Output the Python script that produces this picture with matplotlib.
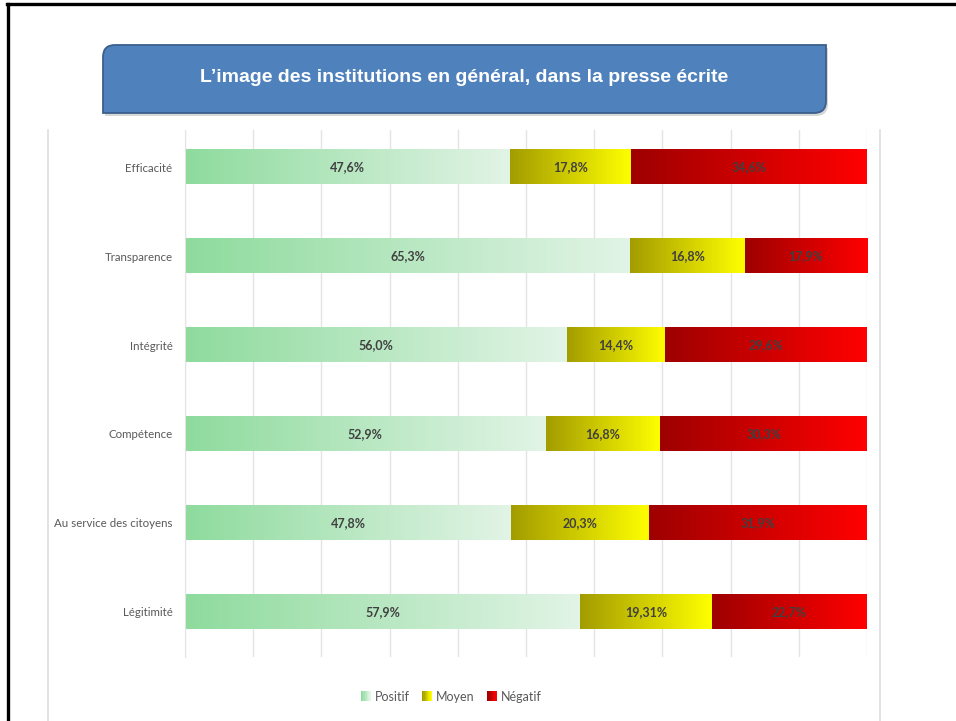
import numpy as np
import matplotlib
matplotlib.use("Agg")
import matplotlib.pyplot as plt
from matplotlib import font_manager
from matplotlib.colors import LinearSegmentedColormap
from matplotlib.patches import PathPatch, Rectangle
from matplotlib.path import Path
from matplotlib.legend_handler import HandlerBase
from matplotlib.lines import Line2D
from matplotlib.transforms import Affine2D

# données
categories = ["Efficacité", "Transparence", "Intégrité", "Compétence",
              "Au service des citoyens", "Légitimité"]
positif = [47.6, 65.3, 56.0, 52.9, 47.8, 57.9]
moyen = [17.8, 16.8, 14.4, 16.8, 20.3, 19.31]
negatif = [34.6, 17.9, 29.6, 30.3, 31.9, 22.7]
labels_positif = ["47,6%", "65,3%", "56,0%", "52,9%", "47,8%", "57,9%"]
labels_moyen = ["17,8%", "16,8%", "14,4%", "16,8%", "20,3%", "19,31%"]
labels_negatif = ["34,6%", "17,9%", "29,6%", "30,3%", "31,9%", "22,7%"]
series_names = ["Positif", "Moyen", "Négatif"]

title = "L\u2019image des institutions en général, dans la presse écrite"

# dégradés (gauche -> droite) de chaque série
gradients = [("#8edb9d", "#e2f4e6"), ("#a39c00", "#ffff00"), ("#9e0000", "#ff0000")]
cmaps = [LinearSegmentedColormap.from_list(n, g) for n, g in zip(series_names, gradients)]

# police étroite pour le titre si dispo
installed = {f.name for f in font_manager.fontManager.ttflist}
if "Liberation Sans Narrow" in installed:
    title_font, title_size = ["Liberation Sans Narrow", "DejaVu Sans"], 16
else:
    title_font, title_size = ["Liberation Sans", "DejaVu Sans"], 14

W, H = 956, 721
fig = plt.figure(figsize=(W / 100, H / 100), dpi=100)
fig.patch.set_facecolor("white")


def px(x, y):
    # pixels (haut-gauche) -> coordonnées figure
    return x / W, 1 - y / H


# cadre noir de la diapo
fig.add_artist(Line2D([7 / W, 1], [1 - 4 / H] * 2, color="black", lw=2.4, transform=fig.transFigure))
fig.add_artist(Line2D([8 / W] * 2, [0, 1 - 4 / H], color="black", lw=2.4, transform=fig.transFigure))

# bordures gauche/droite de la zone graphique
_, y0 = px(0, 130)
for xb in (48, 880):
    fig.add_artist(Line2D([xb / W] * 2, [0, y0], color="#dedede", lw=1.2, transform=fig.transFigure))

# bandeau du titre (coins arrondis en haut à gauche et en bas à droite)
bx0, by0, bx1, by1, r = 103, 45, 826, 113, 12
verts = [(bx0, by0 + r), (bx0, by1), (bx1 - r, by1), (bx1, by1), (bx1, by1 - r),
         (bx1, by0), (bx0 + r, by0), (bx0, by0), (bx0, by0 + r)]
codes = [Path.MOVETO, Path.LINETO, Path.LINETO, Path.CURVE3, Path.CURVE3,
         Path.LINETO, Path.LINETO, Path.CURVE3, Path.CURVE3]
to_fig = Affine2D().scale(1 / W, -1 / H).translate(0, 1) + fig.transFigure
shadow = Path([(x + 2, y + 3) for x, y in verts], codes)
fig.add_artist(PathPatch(shadow, transform=to_fig, facecolor="#b0b0b0", edgecolor="none", alpha=0.5))
fig.add_artist(PathPatch(Path(verts, codes), transform=to_fig, facecolor="#4f81bd",
                         edgecolor="#3a5f8b", lw=1.3))
tx, ty = px((bx0 + bx1) / 2, (by0 + by1) / 2 - 2)
fig.text(tx, ty, title, color="white", fontsize=title_size, fontweight="bold",
         family=title_font, ha="center", va="center")

# axes
al, at = px(185, 130)
ar, ab = px(867, 657)
ax = fig.add_axes([al, ab, ar - al, at - ab])

y = np.arange(len(categories))
bar_h = 0.39
lefts = np.zeros(len(categories))
for values, labels, cmap in zip([positif, moyen, negatif],
                                [labels_positif, labels_moyen, labels_negatif], cmaps):
    bars = ax.barh(y, values, left=lefts, height=bar_h, color="none", edgecolor="none")
    grad = np.linspace(0, 1, 256).reshape(1, -1)
    for b, lab in zip(bars, labels):
        bx, by, bw, bh = b.get_x(), b.get_y(), b.get_width(), b.get_height()
        ax.imshow(grad, cmap=cmap, aspect="auto", extent=[bx, bx + bw, by + bh, by],
                  interpolation="bicubic", zorder=2)
        ax.text(bx + bw / 2, by + bh / 2, lab, ha="center", va="center", fontsize=9,
                fontweight="bold", color="#404040", family=["Lato", "DejaVu Sans"], zorder=3)
    lefts = lefts + np.array(values)

ax.set_xlim(0, 100)
ax.set_ylim(5.506, -0.416)
ax.set_xticks(np.arange(0, 101, 10))
ax.grid(axis="x", color="#e4e4e4", lw=1, zorder=0)
ax.set_axisbelow(True)
ax.set_yticks(y)
ax.set_yticklabels(categories, fontsize=8.3, color="#595959", family=["Lato", "DejaVu Sans"])
ax.tick_params(axis="y", length=0, pad=9)
ax.tick_params(axis="x", length=0, labelbottom=False)
for s in ["top", "right", "bottom"]:
    ax.spines[s].set_visible(False)
ax.spines["left"].set_color("#e4e4e4")


class GradientHandler(HandlerBase):
    def __init__(self, cmap):
        super().__init__()
        self.cmap = cmap

    def create_artists(self, legend, orig_handle, xdescent, ydescent, width, height, fontsize, trans):
        n = 8
        side = height * 1.1
        x_start = width - side
        arts = []
        for i in range(n):
            arts.append(Rectangle((x_start - xdescent + i * side / n, -ydescent), side / n + 0.05, side,
                                  facecolor=self.cmap(i / (n - 1)), edgecolor="none", transform=trans))
        return arts


handles = [Rectangle((0, 0), 1, 1) for _ in series_names]
lx, ly = px(451, 697)
fig.legend(handles, series_names, loc="center", bbox_to_anchor=(lx, ly), ncol=3, frameon=False,
           handler_map={h: GradientHandler(c) for h, c in zip(handles, cmaps)},
           prop={"family": ["Lato", "DejaVu Sans"], "size": 9}, labelcolor="#595959",
           handlelength=0.8, handletextpad=0.3, columnspacing=1.0)

fig.savefig("out.png", dpi=100)
